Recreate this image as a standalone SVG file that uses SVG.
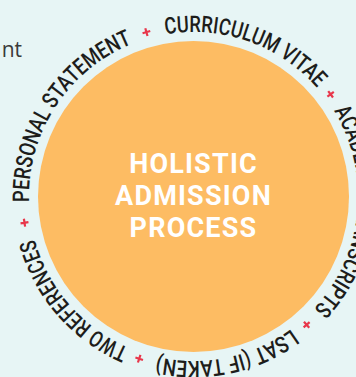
<svg xmlns="http://www.w3.org/2000/svg" xmlns:xlink="http://www.w3.org/1999/xlink" width="356" height="377" viewBox="0 0 356 377">
  <style>
    .ring { font-family: Roboto, "DejaVu Sans", sans-serif; font-size: 23px; font-weight: 500; fill: #1d1d1b; }
    .title { font-family: Roboto, "DejaVu Sans", sans-serif; font-size: 27px; font-weight: 700; fill: #ffffff; letter-spacing: 1.2px; text-anchor: middle; }
    .side { font-family: "Open Sans", "Noto Sans", sans-serif; font-size: 21px; fill: #3a3a3a; }
    .plus { stroke: #e8374b; stroke-width: 2.2; fill: none; }
  </style>
  <defs>
    <path id="ringPath" d="M193.5,32 A164.5,164.5 0 1 1 193.5,361 A164.5,164.5 0 1 1 193.5,32 A164.5,164.5 0 1 1 193.5,361 A164.5,164.5 0 1 1 193.5,32"/>
    <path id="plusMark" d="M-4,0 H4 M0,-4 V4"/>
  </defs>
  <rect width="356" height="377" fill="#e7f5f5"/>
  <text class="side" x="22" y="57" text-anchor="end">nt</text>
  <g id="center">
    <circle cx="193.5" cy="196.5" r="155.5" fill="#fdbc63"/>
    <text class="title" x="193.5" y="173">HOLISTIC</text>
    <text class="title" x="193.5" y="205">ADMISSION</text>
    <text class="title" x="193.5" y="237">PROCESS</text>
  </g>
  <g id="cv"><text class="ring"><textPath xlink:href="#ringPath" href="#ringPath" startOffset="1004.9" textLength="168" lengthAdjust="spacingAndGlyphs">CURRICULUM VITAE</textPath></text></g>
  <g id="transcripts"><text class="ring"><textPath xlink:href="#ringPath" href="#ringPath" startOffset="168" textLength="214" lengthAdjust="spacingAndGlyphs">ACADEMIC TRANSCRIPTS</textPath></text></g>
  <g id="lsat"><text class="ring"><textPath xlink:href="#ringPath" href="#ringPath" startOffset="412" textLength="141" lengthAdjust="spacingAndGlyphs">LSAT (IF TAKEN)</textPath></text></g>
  <g id="references"><text class="ring"><textPath xlink:href="#ringPath" href="#ringPath" startOffset="582.8" textLength="149" lengthAdjust="spacingAndGlyphs">TWO REFERENCES</textPath></text></g>
  <g id="statement"><text class="ring"><textPath xlink:href="#ringPath" href="#ringPath" startOffset="769.5" textLength="201" lengthAdjust="spacingAndGlyphs">PERSONAL STATEMENT</textPath></text></g>
  <g id="separators" class="plus">
    <use href="#plusMark" xlink:href="#plusMark" transform="translate(146.4,32.1) rotate(-16)"/>
    <use href="#plusMark" xlink:href="#plusMark" transform="translate(330.6,94.3) rotate(53.3)"/>
    <use href="#plusMark" xlink:href="#plusMark" transform="translate(306.6,324.8) rotate(138.6)"/>
    <use href="#plusMark" xlink:href="#plusMark" transform="translate(139.2,358.7) rotate(198.5)"/>
    <use href="#plusMark" xlink:href="#plusMark" transform="translate(24.5,222.7) rotate(261.2)"/>
  </g>
</svg>
